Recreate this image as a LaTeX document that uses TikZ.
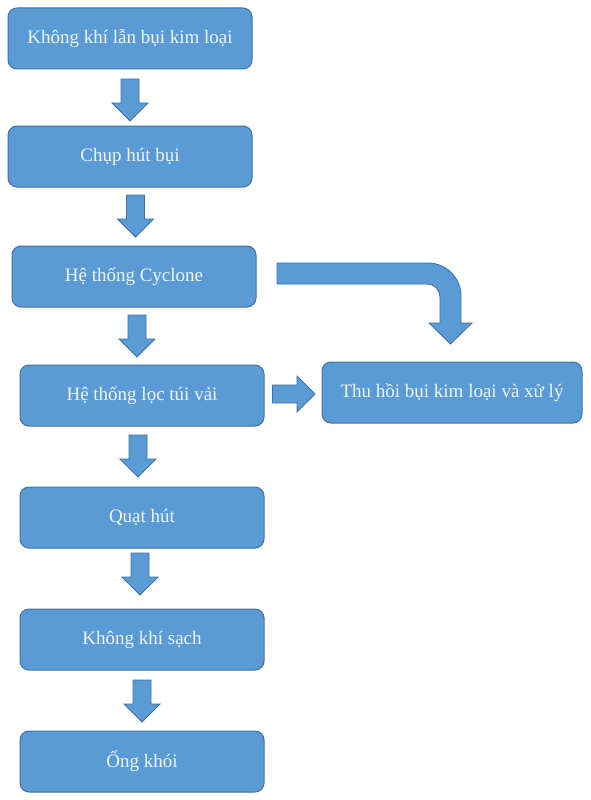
\documentclass[tikz,border=0pt]{standalone}
\usepackage{fontspec}
\setmainfont{Liberation Serif}
\definecolor{fillblue}{HTML}{5B9BD5}
\definecolor{edgeblue}{HTML}{41719C}
\definecolor{labeltext}{HTML}{EEF5FB}
\newcommand{\arrowdownfrom}[1]{\draw[blockshape] (#1) ++(-9,0) -- ++(18,0) -- ++(0,-24) -- ++(9,0) -- ++(-18,-18) -- ++(-18,18) -- ++(9,0) -- cycle;}
\tikzset{
  flowbox/.style={draw=edgeblue,line width=1pt,fill=fillblue,rounded corners=9pt,minimum width=244pt,minimum height=61pt,inner sep=0pt,text=labeltext,font=\fontsize{19}{22}\selectfont,anchor=center},
  blockshape/.style={draw=edgeblue,line width=0.8pt,fill=fillblue,line join=miter}
}
\begin{document}
\begin{tikzpicture}[x=1pt,y=1pt]
\useasboundingbox (0,0) rectangle (591,-800);
\fill[white] (0,0) rectangle (591,-800);
\node[flowbox] (a) at (130,-38.5) {\raisebox{1.5pt}{Không khí lẫn bụi kim loại}};
\node[flowbox] (b) at (130,-156.5) {\raisebox{1.5pt}{Chụp hút bụi}};
\node[flowbox] (c) at (134,-276.5) {\raisebox{1.5pt}{Hệ thống Cyclone}};
\node[flowbox] (d) at (142,-395.5) {\raisebox{1.5pt}{Hệ thống lọc túi vải}};
\node[flowbox] (e) at (142,-517.5) {\raisebox{1.5pt}{Quạt hút}};
\node[flowbox] (f) at (142,-639.5) {\raisebox{1.5pt}{Không khí sạch}};
\node[flowbox] (g) at (142,-761.5) {\raisebox{2.5pt}{Ống khói}};
\node[flowbox,minimum width=260pt] (h) at (452,-392.5) {\raisebox{1.5pt}{Thu hồi bụi kim loại và xử lý}};
\coordinate (ab) at (130,-79);
\coordinate (bc) at (135.5,-195);
\coordinate (cd) at (137,-315);
\coordinate (de) at (138,-435);
\coordinate (ef) at (140,-553);
\coordinate (fg) at (142,-680);
\arrowdownfrom{ab}
\arrowdownfrom{bc}
\arrowdownfrom{cd}
\arrowdownfrom{de}
\arrowdownfrom{ef}
\arrowdownfrom{fg}
\coordinate (dh) at (272.5,-394);
\draw[blockshape] (dh) ++(0,9) -- ++(24.5,0) -- ++(0,9) -- ++(18,-18) -- ++(-18,-18) -- ++(0,9) -- ++(-24.5,0) -- cycle;
\coordinate (ch) at (277,-263);
\draw[blockshape] (ch) -- (428,-263) arc[start angle=90,end angle=0,radius=33]
  -- (461,-323) -- (472,-323) -- (450.5,-344) -- (429,-323) -- (440,-323)
  -- (440,-297) arc[start angle=0,end angle=90,radius=13]
  -- (277,-284) -- cycle;
\end{tikzpicture}
\end{document}
